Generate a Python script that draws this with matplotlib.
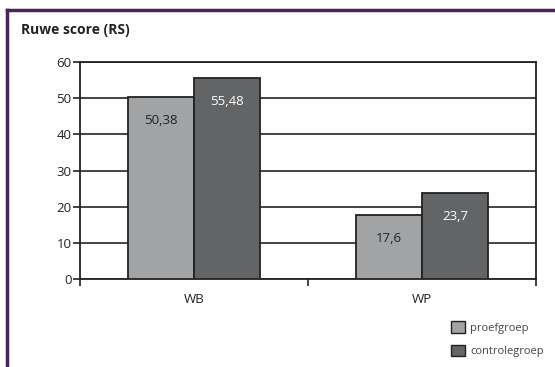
import matplotlib.pyplot as plt
from matplotlib.patches import Patch
from matplotlib.lines import Line2D

plt.rcParams['font.family'] = ['Open Sans', 'DejaVu Sans']

# Ruwe scores per onderdeel
categories = ['WB', 'WP']
proefgroep = [50.38, 17.6]
controlegroep = [55.48, 23.7]
series_names = ['proefgroep', 'controlegroep']
colors = ['#a2a3a5', '#636466']
label_colors = ['#222222', 'white']

fig = plt.figure(figsize=(5.55, 3.67), dpi=100)
ax = fig.add_axes([80 / 555, 1 - 279 / 367, 456 / 555, 217 / 367])

# paarse kader linksboven
fig.add_artist(Line2D([7 / 555, 1.0], [1 - 10 / 367, 1 - 10 / 367], color='#4b2358', lw=2.5))
fig.add_artist(Line2D([7 / 555, 7 / 555], [0.0, 1 - 10 / 367], color='#4b2358', lw=2.5))

fig.text(21 / 555, 1 - 30 / 367, 'Ruwe score (RS)', fontsize=10, fontweight='bold',
         color='#222222', va='center', ha='left')

x = range(len(categories))
w = 0.29
for i, (vals, c, lc) in enumerate(zip([proefgroep, controlegroep], colors, label_colors)):
    pos = [p + (i - 0.5) * w for p in x]
    bars = ax.bar(pos, vals, width=w, color=c, edgecolor='#222222', linewidth=1.3, zorder=3)
    for b, v in zip(bars, vals):
        ax.annotate(str(v).replace('.', ','), (b.get_x() + b.get_width() / 2, v),
                    xytext=(0, -17), textcoords='offset points', ha='center', va='center',
                    fontsize=9.5, color=lc, zorder=4)

ax.set_xlim(-0.5, 1.5)
ax.set_ylim(0, 60)
ax.set_yticks(range(0, 61, 10))
ax.yaxis.grid(True, color='#222222', lw=1.2, zorder=0)
ax.set_axisbelow(True)

ax.set_xticks([-0.5, 0.5, 1.5])
ax.set_xticklabels([])
ax.set_xticks(list(x), minor=True)
ax.set_xticklabels(categories, minor=True)
ax.tick_params(axis='x', which='minor', length=0, pad=10, labelsize=9.5, labelcolor='#222222')
ax.tick_params(axis='x', which='major', length=5, width=1.2, color='#222222')
ax.tick_params(axis='y', length=5, width=1.2, color='#222222', labelsize=9.5,
               labelcolor='#222222', pad=1)

for s in ['left', 'right', 'top', 'bottom']:
    ax.spines[s].set_color('#222222')
    ax.spines[s].set_linewidth(1.3)

handles = [Patch(facecolor=c, edgecolor='#222222', linewidth=1.0) for c in colors]
fig.legend(handles, series_names, loc='upper left', bbox_to_anchor=(441 / 555, 1 - 311 / 367),
           frameon=False, fontsize=8, handlelength=1.25, handleheight=1.25,
           labelspacing=1.0, handletextpad=0.5, labelcolor='#444444')

fig.savefig('out.png', dpi=100)
